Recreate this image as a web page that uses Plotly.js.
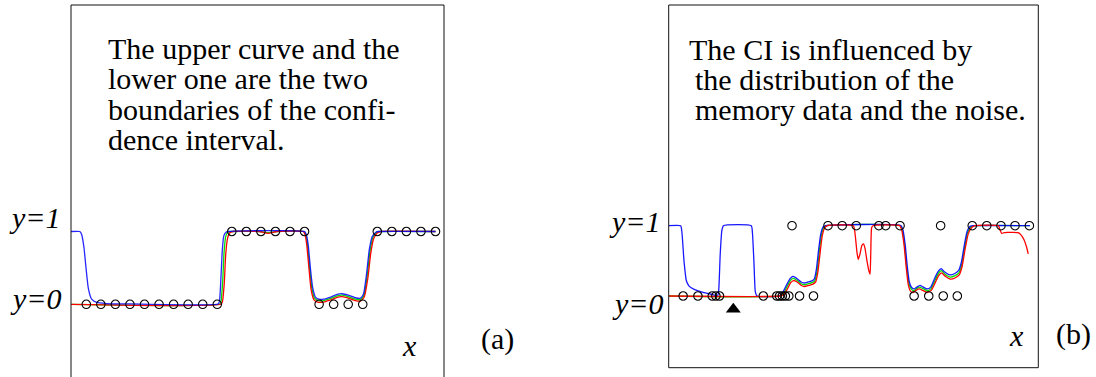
<!DOCTYPE html>
<html>
<head>
<meta charset="utf-8">
<script src="https://cdn.plot.ly/plotly-3.0.1.min.js"></script>
<style>
  html, body { margin: 0; padding: 0; background: #ffffff; font-family: 'Liberation Serif', serif; }
  #chart { width: 1096px; height: 377px; }
  #chart .annotation-text { font-family: 'Liberation Serif', serif !important; }
</style>
</head>
<body>
<div id="chart"></div>
<script>
// ---------- Panel (a): regularly spaced memory data ----------
const memAX = [1, 2, 3, 4, 5, 6, 7, 8, 9, 10, 11, 12, 13, 14, 15, 16, 17, 18, 19, 20, 21, 22, 23, 24, 25];
const memAY = [0, 0, 0, 0, 0, 0, 0, 0, 0, 0, 1, 1, 1, 1, 1, 1, 0, 0, 0, 0, 1, 1, 1, 1, 1];

// upper boundary (blue)
const upperAX = [-0.05, 0.55, 0.68, 0.84, 0.98, 1.14, 1.37, 1.71, 2.4, 4, 10.05, 10.15, 10.25, 10.35, 10.45, 10.6, 10.8,
  16.0, 16.12, 16.25, 16.4, 16.55, 16.75, 17.0, 17.3, 17.8, 18.3, 18.6, 19.0, 19.5, 19.85, 20.05, 20.25, 20.45, 20.65, 20.9, 21.1, 25.0];
const upperAY = [1, 1, 0.96, 0.78, 0.5, 0.22, 0.07, 0.025, 0.01, 0.005, 0.005, 0.04, 0.35, 0.75, 0.94, 0.99, 1,
  1, 0.96, 0.82, 0.5, 0.24, 0.1, 0.07, 0.07, 0.1, 0.14, 0.145, 0.125, 0.09, 0.085, 0.14, 0.4, 0.75, 0.93, 0.99, 1, 1];

// estimate (green)
const meanAX = [-0.05, 10.15, 10.25, 10.37, 10.47, 10.58, 10.72, 10.95, 12.9, 13.5, 14.1,
  15.95, 16.08, 16.2, 16.35, 16.5, 16.7, 16.95, 17.3, 17.8, 18.3, 18.6, 19.0, 19.5, 19.85, 20.08, 20.3, 20.5, 20.7, 20.95, 21.15, 25.0];
const meanAY = [0, 0, 0.03, 0.3, 0.72, 0.93, 0.99, 1, 1, 0.985, 1,
  1, 0.96, 0.82, 0.5, 0.22, 0.08, 0.05, 0.05, 0.08, 0.12, 0.125, 0.105, 0.07, 0.065, 0.12, 0.38, 0.73, 0.92, 0.99, 1, 1];

// lower boundary (red)
const lowerAX = [-0.05, 10.25, 10.35, 10.48, 10.58, 10.7, 10.85, 11.1, 12.9, 13.5, 14.1,
  15.9, 16.03, 16.15, 16.3, 16.45, 16.65, 16.9, 17.3, 17.8, 18.3, 18.6, 19.0, 19.5, 19.85, 20.1, 20.35, 20.55, 20.75, 21.0, 21.25, 25.0];
const lowerAY = [0, 0, 0.03, 0.28, 0.68, 0.9, 0.98, 1, 1, 0.975, 1,
  1, 0.96, 0.82, 0.5, 0.2, 0.06, 0.03, 0.03, 0.06, 0.1, 0.105, 0.085, 0.05, 0.045, 0.1, 0.36, 0.7, 0.9, 0.98, 1, 1];

// ---------- Panel (b): irregular memory data with noise ----------
const memBX = [0.96, 1.98, 2.97, 3.22, 3.47, 6.49, 7.42, 7.61, 7.8, 8.01, 8.25, 8.99, 9.95, 16.89, 17.9, 18.9, 19.87,
  8.47, 10.95, 11.93, 12.9, 14.46, 14.93, 15.92, 18.72, 20.9, 21.9, 22.88, 23.85, 24.84];
const memBY = [0, 0, 0, 0, 0, 0, 0, 0, 0, 0, 0, 0, 0, 0, 0, 0, 0,
  1, 1, 1, 1, 1, 1, 1, 1, 1, 1, 1, 1, 1];

const upperBX = [-0.04, 0.79, 0.88, 1.02, 1.18, 1.37, 1.76, 2.33, 2.9, 3.35, 3.42, 3.52, 3.63, 3.74, 5.66, 5.74, 5.85, 5.94, 6.06, 7.57,
  7.8, 8.1, 8.35, 8.55, 8.8, 9.1, 9.3, 9.6, 9.85, 10.0, 10.15, 10.3, 10.45, 10.6, 10.8,
  16.0, 16.12, 16.28, 16.42, 16.56, 16.72, 16.9, 17.1, 17.3, 17.5, 17.8, 18.05, 18.3, 18.55, 18.75, 19.0, 19.35, 19.7, 19.95,
  20.15, 20.35, 20.55, 20.75, 21.0, 24.88];
const upperBY = [1, 1, 0.9, 0.5, 0.22, 0.14, 0.09, 0.05, 0.025, 0.01, 0.1, 0.6, 0.93, 1, 1, 0.9, 0.45, 0.06, 0, 0,
  0.04, 0.16, 0.25, 0.28, 0.25, 0.2, 0.185, 0.2, 0.215, 0.24, 0.38, 0.65, 0.88, 0.98, 1,
  1, 0.94, 0.72, 0.42, 0.2, 0.12, 0.1, 0.13, 0.15, 0.13, 0.1, 0.13, 0.25, 0.35, 0.39, 0.34, 0.3, 0.32, 0.36,
  0.48, 0.72, 0.92, 0.99, 1, 1];

const meanBX = [-0.04, 7.6, 7.85, 8.12, 8.35, 8.55, 8.8, 9.1, 9.3, 9.6, 9.85, 10.05, 10.2, 10.35, 10.5, 10.65, 10.85,
  15.95, 16.08, 16.24, 16.38, 16.52, 16.68, 16.86, 17.06, 17.28, 17.5, 17.8, 18.06, 18.32, 18.56, 18.76, 19.02, 19.36, 19.72, 19.98,
  20.18, 20.38, 20.58, 20.8, 21.05, 24.88];
const meanBY = [0, 0, 0.03, 0.13, 0.22, 0.25, 0.225, 0.175, 0.16, 0.175, 0.19, 0.22, 0.36, 0.63, 0.87, 0.97, 1,
  1, 0.94, 0.72, 0.42, 0.19, 0.1, 0.075, 0.105, 0.125, 0.105, 0.075, 0.105, 0.22, 0.32, 0.36, 0.31, 0.27, 0.29, 0.33,
  0.45, 0.7, 0.9, 0.98, 1, 1];

const lowerBX = [-0.04, 7.65, 7.9, 8.15, 8.38, 8.58, 8.82, 9.12, 9.32, 9.62, 9.88, 10.1, 10.25, 10.4, 10.55, 10.7, 10.9,
  12.7, 12.81, 12.95, 13.04, 13.16, 13.29, 13.4, 13.5, 13.64, 13.78, 13.85, 13.9, 13.96, 14.05,
  15.9, 16.03, 16.2, 16.34, 16.48, 16.64, 16.82, 17.02, 17.25, 17.48, 17.78, 18.08, 18.35, 18.58, 18.78, 19.04, 19.38, 19.74, 20.0,
  20.2, 20.42, 20.62, 20.85, 21.1,
  22.7, 22.81, 22.93, 23.09, 23.3, 23.71, 24.06, 24.26, 24.47, 24.64, 24.76];
const lowerBY = [0, 0, 0.02, 0.1, 0.19, 0.22, 0.2, 0.15, 0.135, 0.15, 0.165, 0.2, 0.34, 0.6, 0.85, 0.96, 1,
  1, 0.9, 0.62, 0.52, 0.6, 0.72, 0.74, 0.68, 0.5, 0.35, 0.31, 0.6, 0.97, 1,
  1, 0.94, 0.72, 0.42, 0.17, 0.07, 0.05, 0.08, 0.1, 0.08, 0.05, 0.08, 0.19, 0.29, 0.33, 0.28, 0.24, 0.26, 0.3,
  0.42, 0.68, 0.88, 0.97, 1,
  1, 0.94, 0.89, 0.9, 0.905, 0.905, 0.9, 0.87, 0.8, 0.7, 0.6];

// query input marked under panel (b)
const queryX = [4.42];
const queryY = [-0.19];

// ---------- figure ----------
const W = 1096, H = 377;
const px = v => v / W;          // pixel column -> paper x
const py = v => 1 - v / H;      // pixel row -> paper y

function curve(x, y, color, xa, ya, opacity) {
  return {
    x: x, y: y, xaxis: xa, yaxis: ya, type: 'scatter', mode: 'lines',
    line: { color: color, width: 1.3, shape: 'spline', smoothing: 0.5 },
    opacity: opacity || 1, hoverinfo: 'skip', showlegend: false
  };
}
function memory(x, y, xa, ya) {
  return {
    x: x, y: y, xaxis: xa, yaxis: ya, type: 'scatter', mode: 'markers',
    marker: { symbol: 'circle-open', size: 8.5, color: '#000', line: { width: 1.1, color: '#000' } },
    hoverinfo: 'skip', showlegend: false, cliponaxis: false
  };
}

const traces = [
  curve(meanAX, meanAY, '#00dd00', 'x', 'y'),
  curve(lowerAX, lowerAY, '#ff0000', 'x', 'y'),
  curve(upperAX, upperAY, '#0000ff', 'x', 'y', 0.85),
  memory(memAX, memAY, 'x', 'y'),
  curve(meanBX, meanBY, '#00dd00', 'x2', 'y2'),
  curve(upperBX, upperBY, '#0000ff', 'x2', 'y2', 0.9),
  curve(lowerBX, lowerBY, '#ff0000', 'x2', 'y2'),
  memory(memBX, memBY, 'x2', 'y2'),
  {
    x: queryX, y: queryY, xaxis: 'x2', yaxis: 'y2', type: 'scatter', mode: 'markers',
    marker: { symbol: 'triangle-up', size: 13, color: '#000' },
    hoverinfo: 'skip', showlegend: false, cliponaxis: false
  }
];

const hidden = { visible: false, showgrid: false, zeroline: false, fixedrange: true };
const serif = 'Liberation Serif';

function note(text, xPix, topPix, xanchor) {
  return {
    text: text, xref: 'paper', yref: 'paper', x: px(xPix), y: py(topPix),
    xanchor: xanchor || 'left', yanchor: 'top', showarrow: false,
    font: { family: serif, size: 30, color: '#000' }
  };
}

const annotations = [
  note('The upper curve and the', 106.3, 29.6),
  note('lower one are the two', 106.3, 60.2),
  note('boundaries of the confi-', 106.3, 90.8),
  note('dence interval.', 106.3, 121.4),
  note('The CI is influenced by', 687.3, 30.6),
  note('the distribution of the', 693, 60.6),
  note('memory data and the noise.', 693, 90.6),
  note('<i>y=1</i>', 63, 198.5, 'right'),
  note('<i>y=0</i>', 64.3, 280, 'right'),
  note('<i>y=1</i>', 662.7, 202.5, 'right'),
  note('<i>y=0</i>', 666, 284.5, 'right'),
  note('<i>x</i>', 400, 326.5),
  note('<i>x</i>', 1007, 316.5),
  note('(a)', 479, 320.3),
  note('(b)', 1054, 314.5)
];

const boxLine = { color: '#111', width: 1 };
const shapes = [
  // panel (a): open at the bottom
  { type: 'line', xref: 'paper', yref: 'paper', x0: px(71), x1: px(71), y0: py(377), y1: py(5), line: boxLine },
  { type: 'line', xref: 'paper', yref: 'paper', x0: px(71), x1: px(444), y0: py(5), y1: py(5), line: boxLine },
  { type: 'line', xref: 'paper', yref: 'paper', x0: px(444), x1: px(444), y0: py(5), y1: py(377), line: boxLine },
  // panel (b): closed frame
  { type: 'rect', xref: 'paper', yref: 'paper', x0: px(668.7), x1: px(1038.3), y0: py(367.7), y1: py(5), line: boxLine, fillcolor: 'rgba(0,0,0,0)' }
];

const layout = {
  width: W, height: H,
  margin: { l: 0, r: 0, t: 0, b: 0, pad: 0 },
  paper_bgcolor: '#fff', plot_bgcolor: 'rgba(0,0,0,0)',
  showlegend: false,
  font: { family: serif, color: '#000' },
  xaxis: Object.assign({ domain: [px(71), px(444)], range: [-0.0515, 25.584] }, hidden),
  yaxis: Object.assign({ domain: [0, 1], range: [-0.9986, 4.180] }, hidden),
  xaxis2: Object.assign({ domain: [px(668.7), px(1038.3)], range: [-0.0345, 25.455], anchor: 'y2' }, hidden),
  yaxis2: Object.assign({ domain: [0, 1], range: [-1.1522, 4.2105], anchor: 'x2' }, hidden),
  annotations: annotations,
  shapes: shapes
};

Plotly.newPlot('chart', traces, layout, { displayModeBar: false });
</script>
</body>
</html>
